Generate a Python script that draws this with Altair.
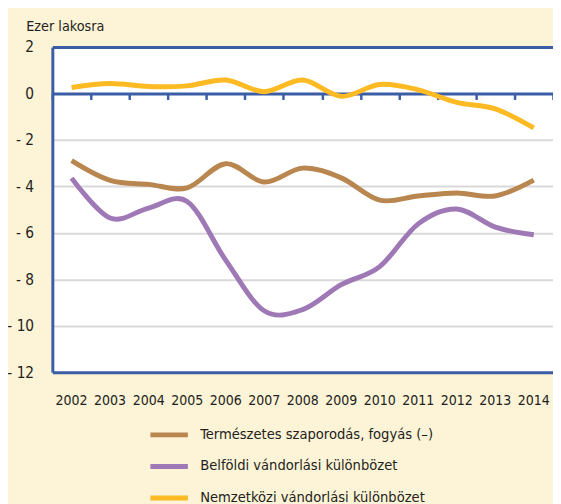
import altair as alt
import pandas as pd

years = [str(y) for y in range(2002, 2015)]
termeszetes = [-2.89, -3.74, -3.91, -4.06, -3.02, -3.81, -3.21, -3.63, -4.59, -4.41, -4.28, -4.41, -3.73]
belfoldi = [-3.64, -5.36, -4.93, -4.65, -7.17, -9.35, -9.30, -8.23, -7.45, -5.61, -4.97, -5.75, -6.08]
nemzetkozi = [0.26, 0.43, 0.30, 0.33, 0.58, 0.08, 0.58, -0.12, 0.39, 0.16, -0.38, -0.66, -1.48]
series_names = [
    "Természetes szaporodás, fogyás (–)",
    "Belföldi vándorlási különbözet",
    "Nemzetközi vándorlási különbözet",
]
series_values = [termeszetes, belfoldi, nemzetkozi]
colors = ["#B8864E", "#9F78B6", "#FDBA23"]
y_ticks = [2, 0, -2, -4, -6, -8, -10, -12]

rows = []
for name, vals in zip(series_names, series_values):
    for yr, v in zip(years, vals):
        rows.append({"year": yr, "value": v, "series": name})
df = pd.DataFrame(rows)

FONT = "DejaVu Sans Condensed, DejaVu Sans, sans-serif"
TXT = "#231F20"
BLUE = "#3A5DA5"
CREAM = "#FDF3D6"

xscale = alt.Scale(type="band", domain=years, paddingInner=0, paddingOuter=0)
yenc = alt.Y(
    "value:Q",
    scale=alt.Scale(domain=[-12, 2], nice=False, zero=False),
    axis=alt.Axis(
        values=y_ticks,
        labelExpr="datum.value < 0 ? '- ' + (-datum.value) : datum.label",
        title="Ezer lakosra",
        titleAngle=0,
        titleX=-27,
        titleY=-17,
        titleAlign="left",
        titleBaseline="alphabetic",
        titleFont=FONT,
        titleFontSize=14.5,
        titleFontWeight="normal",
        titleColor=TXT,
        labelFont=FONT,
        labelFontSize=15.5,
        labelColor=TXT,
        labelPadding=19,
        ticks=False,
        domain=True,
        domainColor=BLUE,
        domainWidth=3,
        grid=True,
        gridColor="#D9D9D9",
        gridWidth=2,
        gridOpacity={"condition": {"test": "datum.value == 2 || datum.value == -12 || datum.value == 0", "value": 0}, "value": 1},
    ),
)

base = alt.Chart(df)

lines = base.mark_line(strokeWidth=5, interpolate="cardinal").encode(
    x=alt.X(
        "year:O",
        sort=years,
        scale=xscale,
        bandPosition=0.5,
        axis=alt.Axis(
            orient="bottom",
            title=None,
            ticks=False,
            domain=True,
            domainColor=BLUE,
            domainWidth=3,
            labelFont=FONT,
            labelFontSize=14.2,
            labelColor=TXT,
            labelPadding=22,
            labelAngle=0,
            grid=False,
        ),
    ),
    y=yenc,
    color=alt.Color(
        "series:N",
        sort=series_names,
        scale=alt.Scale(domain=series_names, range=colors),
        legend=alt.Legend(
            title=None,
            orient="none",
            legendX=97,
            legendY=372,
            direction="vertical",
            symbolType="stroke",
            symbolSize=1444,
            symbolStrokeWidth=5,
            labelFont=FONT,
            labelFontSize=14.8,
            labelColor=TXT,
            labelOffset=10,
            rowPadding=-13,
            labelLimit=400,
        ),
    ),
)

zero_axis = base.mark_point(opacity=0).encode(
    x=alt.X(
        "year:O",
        sort=years,
        scale=xscale,
        bandPosition=0.5,
        axis=alt.Axis(
            orient="bottom",
            offset=-282.86,
            title=None,
            labels=False,
            domain=True,
            domainColor=BLUE,
            domainWidth=3,
            ticks=True,
            tickBand="extent",
            tickColor=BLUE,
            tickWidth=2.5,
            tickSize=6,
            grid=False,
        ),
    ),
    y=yenc,
)

top_axis = base.mark_point(opacity=0).encode(
    x=alt.X(
        "year:O",
        sort=years,
        scale=xscale,
        bandPosition=0.5,
        axis=alt.Axis(
            orient="top",
            title=None,
            labels=False,
            ticks=False,
            domain=True,
            domainColor=BLUE,
            domainWidth=3,
            grid=False,
        ),
    ),
    y=yenc,
)

chart = (
    alt.layer(zero_axis, top_axis, lines)
    .resolve_axis(x="independent")
    .properties(
        width=508,
        height=330,
        padding={"left": 45, "top": 36, "right": 0, "bottom": 130},
        autosize=alt.AutoSizeParams(type="none"),
        background=CREAM,
    )
    .configure_view(fill="white", strokeWidth=0)
)

chart.save("out.html", embed_options={"renderer": "svg", "actions": False})
